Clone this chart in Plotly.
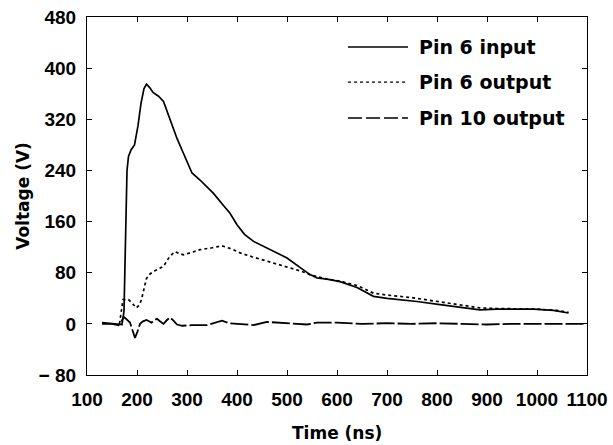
import plotly.graph_objects as go

# ---- data ----
t_in = [130, 150, 165, 170, 174, 177, 180, 183, 188, 195, 202, 208, 214, 219, 225, 232,
        243, 253, 262, 270, 280, 290, 300, 310, 326, 340, 353, 370, 386, 400, 415, 433,
        455, 480, 500, 513, 530, 546, 560, 580, 606, 640, 673, 700, 726, 760, 806, 850,
        886, 920, 960, 993, 1033, 1063]
v_in = [2, 1, 0, -1, 20, 150, 240, 262, 272, 280, 310, 345, 368, 375, 370, 362,
        356, 348, 328, 309, 290, 272, 255, 236, 225, 214, 204, 188, 173, 155, 140, 129,
        121, 111, 103, 95, 86, 77, 72, 70, 66, 57, 43, 40, 38, 35, 30, 26,
        22, 23, 23, 23, 21, 17]

t_out6 = [165, 172, 183, 192, 199, 205, 209, 214, 219, 226, 233, 243, 253, 265, 276, 285,
          293, 310, 326, 350, 370, 390, 406, 430, 460, 490, 513, 530, 546, 580, 606, 640,
          673, 700, 750, 793, 840, 886, 920, 960, 1000, 1040, 1063]
v_out6 = [0, 38, 38, 30, 25, 30, 38, 55, 71, 78, 82, 86, 90, 105, 113, 110,
          108, 112, 116, 119, 122, 117, 111, 105, 98, 92, 86, 82, 77, 70, 67, 60,
          48, 45, 41, 36, 30, 25, 24, 24, 23, 21, 18]

t_out10 = [130, 150, 163, 168, 174, 180, 186, 191, 196, 201, 206, 212, 219, 224, 229, 235,
           240, 246, 253, 260, 266, 273, 280, 290, 310, 340, 355, 370, 385, 400, 433, 460,
           500, 540, 560, 600, 650, 700, 750, 800, 850, 900, 950, 1000, 1050, 1095]
v_out10 = [0, 0, -2, 3, 11, 6, 2, -10, -22, -12, 0, 4, 6, 4, 2, 6,
           8, 4, 0, 6, 10, 5, -1, -3, -2, -2, 2, 5, 1, 0, -2, 3,
           1, -1, 2, 2, 0, 1, 0, 1, 0, -1, 0, 0, 0, 0]

x_ticks = [100, 200, 300, 400, 500, 600, 700, 800, 900, 1000, 1100]
y_ticks = [-80, 0, 80, 160, 240, 320, 400, 480]
y_ticktext = ["\u2212 80", "0", "80", "160", "240", "320", "400", "480"]
series_names = ["Pin 6 input", "Pin 6 output", "Pin 10 output"]
series_dash = ["solid", "dot", "14px,4px"]

fig = go.Figure()
fig.add_trace(go.Scatter(x=t_in, y=v_in, mode="lines", name=series_names[0],
                         line=dict(color="black", width=1.7, dash=series_dash[0])))
fig.add_trace(go.Scatter(x=t_out6, y=v_out6, mode="lines", name=series_names[1],
                         line=dict(color="black", width=1.7, dash=series_dash[1])))
fig.add_trace(go.Scatter(x=t_out10, y=v_out10, mode="lines", name=series_names[2],
                         line=dict(color="black", width=1.8, dash="18px,3px")))

tick_font = dict(family="Liberation Sans", size=19, color="black", weight="bold")
title_font = dict(family="DejaVu Sans", size=17, color="black", weight="bold")

fig.update_xaxes(range=[100, 1100], tickvals=x_ticks, ticks="inside", ticklen=5,
                 tickwidth=1.2, tickcolor="black", showline=True, linecolor="black",
                 linewidth=1.2, mirror="ticks", showgrid=False, zeroline=False,
                 tickfont=tick_font, ticklabelstandoff=7, automargin=False)
fig.update_yaxes(range=[-80, 480], tickvals=y_ticks, ticktext=y_ticktext,
                 ticks="inside", ticklen=5, tickwidth=1.2, tickcolor="black",
                 showline=True, linecolor="black", linewidth=1.2, mirror="ticks",
                 showgrid=False, zeroline=False, tickfont=tick_font,
                 ticklabelstandoff=6, automargin=False,
                 title=dict(text="Voltage (V)", font=title_font, standoff=4))

# manual legend (line samples + labels)
leg_y = [0.916, 0.818, 0.718]
shapes = []
annotations = []
for name, dash, yy in zip(series_names, series_dash, leg_y):
    shapes.append(dict(type="line", xref="paper", yref="paper", x0=0.522, x1=0.642,
                       y0=yy, y1=yy, line=dict(color="black", width=1.4, dash=dash)))
    annotations.append(dict(xref="paper", yref="paper", x=0.66, y=yy, xanchor="left",
                            yanchor="middle", showarrow=False,
                            text="<b>%s</b>" % name,
                            font=dict(family="DejaVu Sans", size=19, color="black")))
# x axis title
annotations.append(dict(xref="paper", yref="paper", x=0.5, y=-0.162, xanchor="center",
                        yanchor="middle", showarrow=False, text="Time (ns)",
                        font=title_font))

fig.update_layout(width=613, height=445, margin=dict(l=87, r=26, t=17, b=70),
                  plot_bgcolor="white", paper_bgcolor="white", showlegend=False,
                  shapes=shapes, annotations=annotations)

fig.write_html("out.html")
